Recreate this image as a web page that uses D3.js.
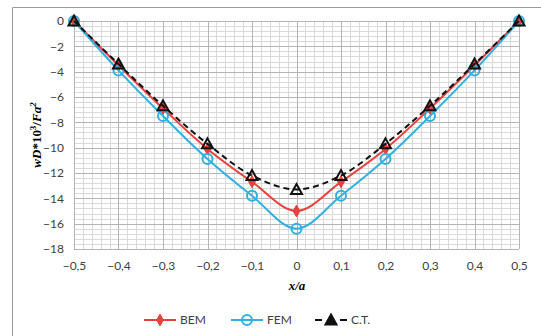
<!DOCTYPE html>
<html>
<head>
<meta charset="utf-8">
<script src="https://cdn.jsdelivr.net/npm/d3@7"></script>
<style>
  body { margin: 0; background: #fff; }
  svg { display: block; }
</style>
</head>
<body>
<div id="main"></div>
<script>
// data
var xVals = [-0.5, -0.4, -0.3, -0.2, -0.1, 0, 0.1, 0.2, 0.3, 0.4, 0.5];
var bem = [0, -3.5, -6.9, -10.1, -12.7, -15.0, -12.7, -10.1, -6.9, -3.5, 0];
var fem = [0, -3.9, -7.5, -10.9, -13.8, -16.4, -13.8, -10.9, -7.5, -3.9, 0];
var ct  = [0, -3.4, -6.7, -9.7, -12.2, -13.3, -12.2, -9.7, -6.7, -3.4, 0];
var xTicks = [-0.5, -0.4, -0.3, -0.2, -0.1, 0, 0.1, 0.2, 0.3, 0.4, 0.5];
var yTicks = [0, -2, -4, -6, -8, -10, -12, -14, -16, -18];

var W = 541, H = 336;
var margin = {top: 21, right: 22, bottom: 87, left: 74},
    width = W - margin.left - margin.right,
    height = H - margin.top - margin.bottom;

var red = "#e8403c", blue = "#2fb0e0", black = "#111";
var tickFont = "Lato, 'Open Sans', sans-serif";

var svg = d3.select("#main")
  .append("svg")
    .attr("width", W)
    .attr("height", H);

// outer frame (left and top edges only visible)
svg.append("path")
  .attr("d", "M12.5," + H + "V7.5H" + W)
  .attr("fill", "none")
  .attr("stroke", "#9a9a9a")
  .attr("stroke-width", 1);

var g = svg.append("g")
  .attr("transform", "translate(" + margin.left + "," + margin.top + ")");

var x = d3.scaleLinear().domain([-0.5, 0.5]).range([0, width]);
var y = d3.scaleLinear().domain([-18, 0]).range([height, 0]);

// minor grid
var xMinor = d3.range(-0.5, 0.5001, 0.02);
var yMinor = d3.range(-18, 0.001, 0.4);
g.append("g").selectAll("line").data(xMinor).enter().append("line")
  .attr("x1", function(d) { return Math.round(x(d)) + 0.5; })
  .attr("x2", function(d) { return Math.round(x(d)) + 0.5; })
  .attr("y1", 0).attr("y2", height)
  .attr("stroke", "#d9d9d9");
g.append("g").selectAll("line").data(yMinor).enter().append("line")
  .attr("y1", function(d) { return Math.round(y(d)) + 0.5; })
  .attr("y2", function(d) { return Math.round(y(d)) + 0.5; })
  .attr("x1", 0).attr("x2", width)
  .attr("stroke", "#d9d9d9");

// major grid
g.append("g").selectAll("line").data(xTicks).enter().append("line")
  .attr("x1", function(d) { return Math.round(x(d)) + 0.5; })
  .attr("x2", function(d) { return Math.round(x(d)) + 0.5; })
  .attr("y1", 0).attr("y2", height)
  .attr("stroke", "#b4b4b4");
g.append("g").selectAll("line").data(yTicks).enter().append("line")
  .attr("y1", function(d) { return Math.round(y(d)) + 0.5; })
  .attr("y2", function(d) { return Math.round(y(d)) + 0.5; })
  .attr("x1", 0).attr("x2", width)
  .attr("stroke", "#b4b4b4");

// axes (labels only)
var fmtX = function(d) { return d === 0 ? "0" : d3.format(".1f")(d).replace(".", ","); };
var xAxis = g.append("g")
  .attr("transform", "translate(0," + height + ")")
  .call(d3.axisBottom(x).tickValues(xTicks).tickFormat(fmtX).tickSize(0).tickPadding(12));
var yAxis = g.append("g")
  .call(d3.axisLeft(y).tickValues(yTicks).tickSize(0).tickPadding(10));
[xAxis, yAxis].forEach(function(a) {
  a.select(".domain").remove();
  a.selectAll("text")
    .attr("fill", "#404040")
    .style("font-family", tickFont)
    .style("font-size", "12px");
});

// series
var series = [
  {name: "BEM", values: bem, color: red, dash: null, marker: "diamond"},
  {name: "FEM", values: fem, color: blue, dash: null, marker: "circle"},
  {name: "C.T.", values: ct, color: black, dash: "6,4", marker: "triangle"}
];

var line = d3.line()
  .x(function(d) { return x(d[0]); })
  .y(function(d) { return y(d[1]); })
  .curve(d3.curveCatmullRom.alpha(0.5));

function drawMarker(sel, s) {
  if (s.marker === "diamond") {
    sel.append("path")
      .attr("d", d3.symbol().type(d3.symbolDiamond).size(40)())
      .attr("fill", s.color).attr("stroke", s.color).attr("stroke-width", 1);
  } else if (s.marker === "circle") {
    sel.append("circle").attr("r", 5)
      .attr("fill", "none").attr("stroke", s.color).attr("stroke-width", 2);
  } else {
    sel.append("path")
      .attr("d", "M0,-5.5L5.5,4.5L-5.5,4.5Z")
      .attr("fill", "none").attr("stroke", s.color).attr("stroke-width", 2);
  }
}

series.forEach(function(s) {
  var pts = xVals.map(function(v, i) { return [v, s.values[i]]; });
  g.append("path")
    .datum(pts)
    .attr("d", line)
    .attr("fill", "none")
    .attr("stroke", s.color)
    .attr("stroke-width", 2)
    .attr("stroke-dasharray", s.dash);
  g.append("g").selectAll("g").data(pts).enter().append("g")
    .attr("transform", function(d) { return "translate(" + x(d[0]) + "," + y(d[1]) + ")"; })
    .each(function() { drawMarker(d3.select(this), s); });
});

// axis titles
svg.append("text")
  .attr("x", 297).attr("y", 290)
  .attr("text-anchor", "middle")
  .style("font-family", "'Liberation Serif', serif")
  .style("font-size", "13px").style("font-style", "italic").style("font-weight", "bold")
  .text("x/a");

var yt = svg.append("text")
  .attr("transform", "translate(41,135) rotate(-90)")
  .attr("text-anchor", "middle")
  .style("font-family", "'Liberation Serif', serif")
  .style("font-size", "13px").style("font-weight", "bold");
yt.append("tspan").style("font-style", "italic").text("wD");
yt.append("tspan").text("*10");
yt.append("tspan").attr("dy", -5).style("font-size", "9px").text("3");
yt.append("tspan").attr("dy", 5).text("/");
yt.append("tspan").style("font-style", "italic").text("Fa");
yt.append("tspan").attr("dy", -5).style("font-size", "9px").style("font-style", "italic").text("2");

// legend
var legendX = [144, 231, 315];
var legend = svg.append("g").attr("transform", "translate(0,320)");
series.forEach(function(s, i) {
  var lg = legend.append("g").attr("transform", "translate(" + legendX[i] + ",0)");
  lg.append("line")
    .attr("x1", 0).attr("x2", 32).attr("y1", 0).attr("y2", 0)
    .attr("stroke", s.color).attr("stroke-width", 2)
    .attr("stroke-dasharray", s.dash ? "7,18" : null);
  var m = lg.append("g").attr("transform", "translate(16,0)");
  drawMarker(m, s);
  if (s.marker === "triangle") m.select("path").attr("fill", s.color);
  lg.append("text")
    .attr("x", 36).attr("y", 4)
    .attr("fill", "#404040")
    .style("font-family", tickFont)
    .style("font-size", "12px")
    .text(s.name);
});
</script>
</body>
</html>
